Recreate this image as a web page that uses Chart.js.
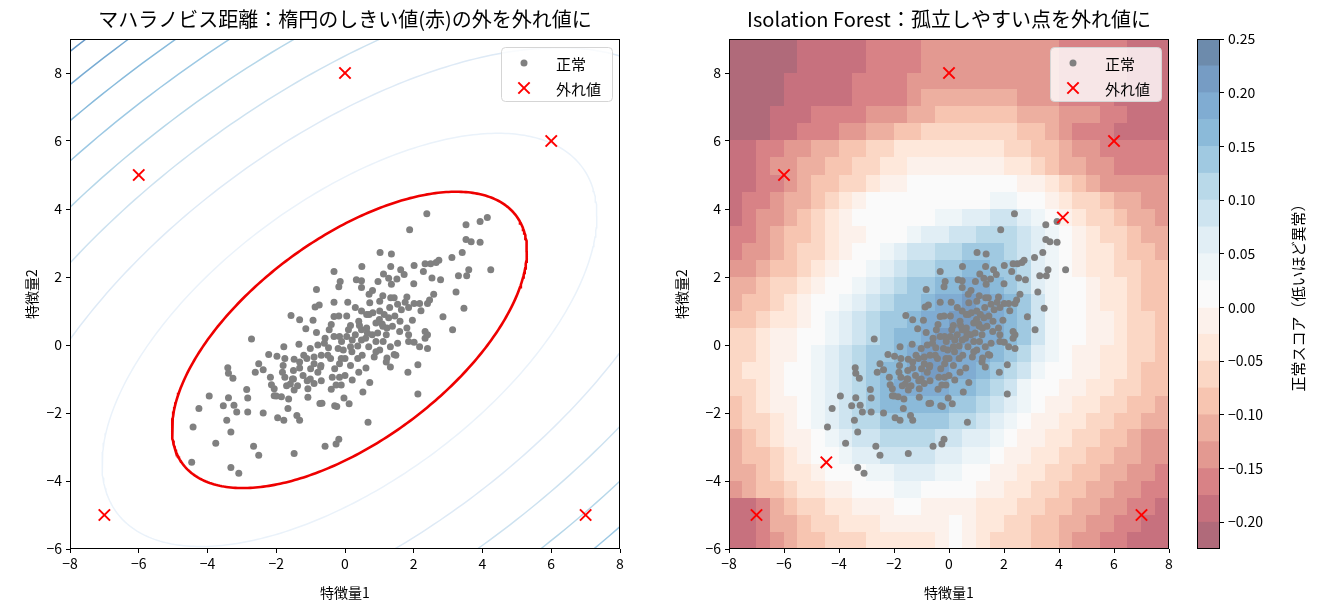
<!DOCTYPE html>
<html>
<head>
<meta charset="utf-8">
<script src="https://cdn.jsdelivr.net/npm/chart.js@4.4.1/dist/chart.umd.min.js"></script>
<style>
  body { margin: 0; background: #fff; width: 1317px; height: 611px; position: relative; overflow: hidden; }
  canvas { position: absolute; top: 0; }
</style>
</head>
<body>
<canvas id="left" width="690" height="611" style="left:0px"></canvas>
<canvas id="right" width="600" height="611" style="left:649px"></canvas>
<canvas id="cbar" width="137" height="611" style="left:1180px"></canvas>
<script>
const FONT = "'Noto Sans CJK JP', 'Noto Sans', sans-serif";
Chart.defaults.font.family = FONT;
Chart.defaults.color = '#000';

// --- data ---
const normalX = [
  2.38, 4.14, 3.93, 3.52, 1.88, 3.52, 3.67, 3.93, 4.24, 1.02,
  1.35, 3.41, 3.11, 2.73, 2.65, 2.49, 2.33, 2.01, 2.28, 2.53,
  2.78, 3.60, 3.30, 3.54, 0.49, 1.33, 1.12, 1.62, 1.72, 1.51,
  1.27, 1.35, -0.32, -0.14, -0.18, 0.33, 0.48, 0.48, 0.96, 2.00,
  -0.83, 3.23, 2.58, 2.46, 2.40, 0.70, 1.33, 1.43, 1.80, 1.75,
  1.53, 2.01, 2.17, 2.21, -0.32, 0.08, 0.72, 1.01, -0.75, -0.87,
  3.46, 2.85, 3.13, -1.57, -1.32, -0.93, -0.32, -0.18, 0.05, 0.48,
  0.63, 0.81, 1.01, 1.14, 1.27, 1.64, 1.85, 1.96, -1.14, -0.83,
  -0.46, 0.16, 0.42, 0.48, 0.63, 0.90, 1.08, 1.22, 1.38, 1.59,
  2.33, 2.40, 2.33, -2.72, -0.58, -0.32, -0.16, 0.05, 0.21, 0.48,
  0.79, 1.11, 1.53, 1.85, 2.01, 2.17, 2.40, 1.85, -1.34, -1.78,
  -1.01, -0.79, -0.48, -0.05, 0.16, 0.37, 0.69, 1.01, 1.32, 1.43,
  -2.22, -1.98, -1.75, -1.48, -1.32, -1.11, -0.69, -0.42, -0.11, 0.37,
  0.85, 1.22, 1.48, -2.51, -2.61, -2.38, -1.82, -1.50, -1.32, -0.90,
  -0.71, -0.16, 0.16, 0.61, 1.32, 2.12, 1.83, -3.41, -3.39, -3.26,
  -2.17, -1.75, -1.53, -1.22, -1.01, -0.79, -0.37, -0.16, 0.00, 0.21,
  0.72, -2.14, -1.59, -1.38, -0.90, -0.69, -2.86, -2.06, -1.48, -1.08,
  -0.26, -0.11, 0.52, 2.12, -3.95, -3.39, -2.83, -2.06, -1.85, -1.64,
  -1.08, -0.03, -4.25, -3.54, -3.23, -1.66, -0.73, -0.67, -0.30, -0.24,
  0.12, -3.15, -2.83, -2.38, -1.96, -1.78, -1.40, -1.32, -3.44, 0.67,
  -4.42, -3.32, -3.76, -2.66, -0.58, -0.26, -0.18, -2.51, -1.48, -4.46,
  -3.32, -3.09,
  0.30, 0.60, 0.90, 1.20, 0.40, 0.70, 1.00, 1.30, 0.20, -0.20,
  -0.50, -0.70, -1.00, -1.20, -0.30, 0.00, 0.50, 0.90, 1.10, 0.65,
  -0.10, 0.10, -0.60, -0.90, -1.50, -1.70, -1.10, 0.30, 1.60, 1.80,
  0.80, 1.10, -0.40, -1.80, -2.00, 0.40, 1.20, -0.40, 0.95, 1.45
];
const normalY = [
  3.86, 3.75, 3.63, 3.54, 3.39, 3.10, 3.04, 3.02, 2.21, 2.72,
  2.68, 2.72, 2.57, 2.49, 2.43, 2.39, 2.39, 2.34, 2.16, 1.97,
  1.92, 2.21, 2.04, 2.04, 2.31, 2.31, 2.09, 2.21, 2.07, 1.94,
  1.96, 1.79, 2.16, 1.87, 1.71, 1.92, 1.89, 1.69, 1.87, 1.80,
  1.63, 1.56, 1.49, 1.32, 1.22, 1.49, 1.39, 1.39, 1.41, 1.26,
  1.20, 1.22, 1.22, 1.01, 1.26, 1.26, 1.24, 1.29, 1.18, 1.12,
  1.08, 0.83, 0.45, 0.87, 0.74, 0.73, 0.84, 0.85, 0.85, 1.00,
  0.90, 0.95, 1.00, 0.90, 0.80, 1.04, 1.10, 0.73, 0.48, 0.37,
  0.45, 0.57, 0.57, 0.45, 0.50, 0.65, 0.62, 0.50, 0.55, 0.40,
  0.40, 0.30, 0.20, 0.18, 0.20, 0.25, 0.25, 0.25, 0.15, 0.15,
  0.30, 0.10, 0.05, 0.10, 0.08, -0.05, -0.10, 0.30, 0.02, -0.05,
  -0.10, 0.00, -0.08, -0.15, -0.05, -0.03, -0.05, -0.15, -0.05, -0.28,
  -0.28, -0.33, -0.40, -0.42, -0.50, -0.40, -0.30, -0.40, -0.40, -0.40,
  -0.35, -0.38, -0.30, -0.55, -0.80, -0.73, -0.80, -0.75, -0.68, -0.55,
  -0.65, -0.55, -0.60, -0.68, -0.65, -0.58, -0.80, -0.67, -0.83, -0.98,
  -0.95, -0.95, -1.00, -0.90, -1.00, -0.80, -0.95, -0.95, -0.90, -1.03,
  -1.10, -1.17, -1.15, -1.20, -1.13, -1.05, -1.31, -1.29, -1.32, -1.29,
  -1.18, -1.18, -1.38, -1.44, -1.50, -1.55, -1.56, -1.49, -1.52, -1.59,
  -1.54, -1.56, -1.87, -1.79, -1.77, -1.87, -1.72, -1.71, -1.79, -1.81,
  -1.73, -1.97, -1.97, -2.00, -2.14, -2.21, -2.07, -2.21, -2.21, -2.27,
  -2.41, -2.56, -2.89, -2.98, -2.98, -2.91, -2.77, -3.24, -3.19, -3.45,
  -3.60, -3.77,
  0.30, 0.20, 0.10, 0.30, 0.70, 0.90, 0.75, 1.10, -0.20, -0.10,
  -0.30, -0.60, -0.70, -0.30, -0.70, -0.40, -0.30, -0.20, 0.55, 0.35,
  0.10, 0.45, 0.05, -0.35, -1.00, -1.20, -1.05, 1.10, 0.70, 0.50,
  1.60, 1.45, 0.60, -0.60, -1.50, -0.80, -0.50, -1.30, 0.35, 0.85
];
const outlierX = [-7, 7, -6, 0, 6];
const outlierY = [-5, -5, 5, 8, 6];
// normal points that the isolation forest also marks as outliers
const flaggedX = [4.14, -4.46];
const flaggedY = [3.75, -3.45];

const xTicks = [-8, -6, -4, -2, 0, 2, 4, 6, 8];
const yTicks = [-6, -4, -2, 0, 2, 4, 6, 8];
const cbarTicks = [-0.20, -0.15, -0.10, -0.05, 0.00, 0.05, 0.10, 0.15, 0.20, 0.25];

// Mahalanobis model (estimated from the drawn ellipses)
const center = [0.13, 0.15];
const cov = [[2.96, 1.5], [1.5, 2.11]];
const thresholdDist = 3;
const contourLevels = [17.5, 35, 52.5, 70, 87.5, 105, 122.5, 140]; // squared distance

// Isolation Forest score bands: level index per 0.5 x 0.5 cell, rows from y=9 down to y=-6,
// columns from x=-8 to x=8 ('0'..'i' = band 0..18)
const scoreMin = -0.225;
const scoreStep = 0.025;
const bandCount = 19;
const cellSize = 0.5;
const scoreGrid = [
  "00000111112222333333333322222111",
  "00000111112222333333333322222111",
  "00001111122223333333333322222111",
  "00001111122223444444433322221111",
  "00011122223334455555544433322111",
  "00011222334455666666655432221111",
  "11223344556677777777665543322222",
  "11233445566778888888776544332222",
  "11223455667889999999988765433333",
  "1223445678999999999aa99876654433",
  "123345678999999aabbccba987665443",
  "2234556788999abbccdddcba98766544",
  "23345667899abccddeeedcba98776554",
  "3345567899abcddeeffeedba98776655",
  "445667899abcdeeffggfedba99877655",
  "45567899abcdeefgghggfeca99877655",
  "5567789abcdeefgghhhgfeca99887665",
  "6678899abcdeffghhhggfeca99887665",
  "667889abcdeefghhhggfedba98877665",
  "677899abcdeffghhggfedca998877655",
  "667899abcdefggggffedca9988776655",
  "567889abcdefffffeedcba9887766554",
  "566789abcddeeeeeddcba98877665544",
  "4567889abccddddccbba988776655433",
  "45567899abbccccbbaa9887766554433",
  "4456778999aabbbaa998877665544332",
  "345567788999aa999988776655443322",
  "11245667788899888877766554433221",
  "11244566777888889877665544332211",
  "11234556667777789876665543322111"
];

// --- colour maps ---
const RDBU = ['#67001f','#b2182b','#d6604d','#f4a582','#fddbc7','#f7f7f7','#d1e5f0','#92c5de','#4393c3','#2166ac','#053061'];
const BLUES = ['#f7fbff','#deebf7','#c6dbef','#9ecae1','#6baed6','#4292c6','#2171b5','#08519c','#08306b'];
function hex(h) { return [1, 3, 5].map(i => parseInt(h.substr(i, 2), 16)); }
function cmap(stops, t) {
  t = Math.min(1, Math.max(0, t));
  const p = t * (stops.length - 1), i = Math.min(Math.floor(p), stops.length - 2), f = p - i;
  const a = hex(stops[i]), b = hex(stops[i + 1]);
  return a.map((v, j) => v + (b[j] - v) * f);
}
function onWhite(rgb, alpha) {
  const c = rgb.map(v => Math.round(v * alpha + 255 * (1 - alpha)));
  return `rgb(${c[0]},${c[1]},${c[2]})`;
}
function bandColor(k) {
  const mid = scoreMin + scoreStep * (k + 0.5);
  const t = (mid - scoreMin) / (scoreStep * bandCount);
  return onWhite(cmap(RDBU, t), 0.6);
}
function fmt(v, digits) {
  const s = Math.abs(v).toFixed(digits);
  return (v < -1e-9 ? '\u2212' : '') + s;
}

function ellipse(d) {
  const l11 = Math.sqrt(cov[0][0]);
  const l21 = cov[0][1] / l11;
  const l22 = Math.sqrt(cov[1][1] - l21 * l21);
  const pts = [];
  for (let i = 0; i <= 360; i++) {
    const t = i * Math.PI / 180;
    const a = d * Math.cos(t), b = d * Math.sin(t);
    pts.push({ x: center[0] + l11 * a, y: center[1] + l21 * a + l22 * b });
  }
  return pts;
}

const toPoints = (xs, ys) => xs.map((x, i) => ({ x: x, y: ys[i] }));
const isFlagged = (x, y) => flaggedX.some((fx, i) => Math.abs(fx - x) < 1e-6 && Math.abs(flaggedY[i] - y) < 1e-6);

// --- plugins ---
const framePlugin = {
  id: 'frame',
  afterDatasetsDraw(chart) {
    const { ctx, chartArea: a } = chart;
    ctx.save();
    ctx.strokeStyle = '#000';
    ctx.lineWidth = 1;
    ctx.strokeRect(Math.round(a.left) + 0.5, Math.round(a.top) + 0.5,
      Math.round(a.right - a.left) - 1, Math.round(a.bottom - a.top) - 1);
    ctx.restore();
  }
};

const boxLegend = {
  id: 'boxLegend',
  afterDatasetsDraw(chart, args, opts) {
    if (!opts || !opts.show) return;
    const { ctx, chartArea: a } = chart;
    const w = 111, h = 54;
    const x0 = Math.round(a.right - w - 8), y0 = Math.round(a.top + 8);
    ctx.save();
    ctx.beginPath();
    ctx.roundRect(x0 + 0.5, y0 + 0.5, w, h, 4);
    ctx.fillStyle = 'rgba(255,255,255,0.8)';
    ctx.fill();
    ctx.strokeStyle = '#d5d5d5';
    ctx.lineWidth = 1;
    ctx.stroke();
    const items = chart.data.datasets.filter(d => d.legendRank !== undefined)
      .sort((p, q) => p.legendRank - q.legendRank);
    items.forEach((d, i) => {
      const cx = x0 + 23, cy = y0 + 16 + i * 25;
      ctx.fillStyle = d.pointBackgroundColor || d.borderColor;
      ctx.strokeStyle = d.borderColor || d.pointBackgroundColor;
      ctx.lineWidth = d.borderWidth || 1;
      Chart.helpers.drawPoint(ctx, {
        pointStyle: d.pointStyle || 'circle', radius: d.pointRadius, borderWidth: d.borderWidth || 0, rotation: 0
      }, cx, cy);
      ctx.fillStyle = '#000';
      ctx.font = `15px ${FONT}`;
      ctx.textBaseline = 'middle';
      ctx.textAlign = 'left';
      ctx.fillText(d.label, x0 + 55, cy + 1);
    });
    ctx.restore();
  }
};

const heatPlugin = {
  id: 'heat',
  beforeDatasetsDraw(chart, args, opts) {
    if (!opts || !opts.show) return;
    const { ctx, chartArea: a, scales } = chart;
    ctx.save();
    ctx.beginPath();
    ctx.rect(a.left, a.top, a.right - a.left, a.bottom - a.top);
    ctx.clip();
    scoreGrid.forEach((row, r) => {
      const yTop = 9 - r * cellSize;
      const py0 = Math.floor(scales.y.getPixelForValue(yTop));
      const py1 = Math.ceil(scales.y.getPixelForValue(yTop - cellSize));
      for (let c = 0; c < row.length; c++) {
        const k = parseInt(row[c], 36);
        const xl = -8 + c * cellSize;
        const px0 = Math.floor(scales.x.getPixelForValue(xl));
        const px1 = Math.ceil(scales.x.getPixelForValue(xl + cellSize));
        ctx.fillStyle = bandColor(k);
        ctx.fillRect(px0, py0, px1 - px0, py1 - py0);
      }
    });
    ctx.restore();
  }
};

function axes(yTitlePad) {
  return {
    x: {
      type: 'linear', min: -8, max: 8,
      afterBuildTicks: s => { s.ticks = xTicks.map(v => ({ value: v })); },
      afterFit: s => { s.height = 52; },
      border: { display: false },
      grid: { drawOnChartArea: false, drawTicks: true, tickLength: 4, color: '#000' },
      ticks: { padding: 2, font: { size: 14 }, color: '#000', maxRotation: 0, callback: v => fmt(v, 0) },
      title: { display: true, text: '特徴量1', font: { size: 14 }, color: '#000', padding: { top: 7, bottom: 0 } }
    },
    y: {
      type: 'linear', min: -6, max: 9,
      afterBuildTicks: s => { s.ticks = yTicks.map(v => ({ value: v })); },
      afterFit: s => { s.width = 60; },
      border: { display: false },
      grid: { drawOnChartArea: false, drawTicks: true, tickLength: 4, color: '#000' },
      ticks: { padding: 4, font: { size: 14 }, color: '#000', callback: v => fmt(v, 0) },
      title: { display: true, text: '特徴量2', font: { size: 14 }, color: '#000', padding: { top: yTitlePad, bottom: 0 } }
    }
  };
}

function titleOpts(text) {
  return {
    display: true, text: text, fullSize: false, color: '#000',
    font: { size: 20, weight: 'normal', lineHeight: 1 },
    padding: { top: 9, bottom: 10 }
  };
}

const normalStyle = { pointRadius: 3.5, pointBackgroundColor: 'gray', borderWidth: 0, pointBorderWidth: 0, pointStyle: 'circle' };
const outStyle = { pointRadius: 8, pointStyle: 'crossRot', borderColor: 'red', pointBorderColor: 'red', borderWidth: 2, pointBorderWidth: 2 };

// --- left: Mahalanobis ---
const leftSets = [
  Object.assign({ label: '外れ値', data: toPoints(outlierX, outlierY), order: 0, legendRank: 1 }, outStyle),
  Object.assign({ label: '正常', data: toPoints(normalX, normalY), order: 1, legendRank: 0 }, normalStyle),
  { label: 'threshold', data: ellipse(thresholdDist), showLine: true, pointRadius: 0, borderColor: '#ee0000', borderWidth: 2.6, order: 2 }
];
contourLevels.forEach((lv, i) => {
  leftSets.push({
    label: 'd2=' + lv, data: ellipse(Math.sqrt(lv)), showLine: true, pointRadius: 0,
    borderColor: onWhite(cmap(BLUES, 0.12 + 0.68 * i / (contourLevels.length - 1)), 0.65),
    borderWidth: 1.5, order: 3
  });
});

new Chart(document.getElementById('left'), {
  type: 'scatter',
  data: { datasets: leftSets },
  options: {
    responsive: false, animation: false, events: [],
    layout: { padding: { left: 10, right: 70, top: 0, bottom: 10 } },
    scales: axes(13),
    plugins: {
      legend: { display: false }, tooltip: { enabled: false },
      title: titleOpts('マハラノビス距離：楕円のしきい値(赤)の外を外れ値に'),
      boxLegend: { show: true }
    }
  },
  plugins: [framePlugin, boxLegend]
});

// --- right: Isolation Forest ---
const ifNormal = toPoints(normalX, normalY).filter(p => !isFlagged(p.x, p.y));
const ifOut = toPoints(outlierX.concat(flaggedX), outlierY.concat(flaggedY));

new Chart(document.getElementById('right'), {
  type: 'scatter',
  data: {
    datasets: [
      Object.assign({ label: '外れ値', data: ifOut, order: 0, legendRank: 1 }, outStyle),
      Object.assign({ label: '正常', data: ifNormal, order: 1, legendRank: 0 }, normalStyle)
    ]
  },
  options: {
    responsive: false, animation: false, events: [],
    layout: { padding: { left: 20, right: 80, top: 0, bottom: 10 } },
    scales: axes(4),
    plugins: {
      legend: { display: false }, tooltip: { enabled: false },
      title: titleOpts('Isolation Forest：孤立しやすい点を外れ値に'),
      boxLegend: { show: true },
      heat: { show: true }
    }
  },
  plugins: [heatPlugin, framePlugin, boxLegend]
});

// --- colour bar ---
const bandSets = [];
for (let k = 0; k < bandCount; k++) {
  const lo = scoreMin + k * scoreStep;
  bandSets.push({
    data: [[lo, lo + scoreStep]], backgroundColor: bandColor(k), borderWidth: 0,
    barPercentage: 1, categoryPercentage: 1, grouped: false
  });
}
const cbarTitle = {
  id: 'cbarTitle',
  afterDraw(chart) {
    const { ctx, chartArea: a } = chart;
    ctx.save();
    ctx.translate(118, (a.top + a.bottom) / 2);
    ctx.rotate(-Math.PI / 2);
    ctx.font = `15px ${FONT}`;
    ctx.fillStyle = '#000';
    ctx.textAlign = 'center';
    ctx.textBaseline = 'middle';
    ctx.fillText('正常スコア（低いほど異常）', 0, 0);
    ctx.restore();
  }
};
new Chart(document.getElementById('cbar'), {
  type: 'bar',
  data: { labels: ['score'], datasets: bandSets },
  options: {
    responsive: false, animation: false, events: [],
    layout: { padding: { left: 17, right: 0, top: 39, bottom: 62 } },
    scales: {
      x: { display: false },
      y: {
        position: 'right', min: scoreMin, max: scoreMin + scoreStep * bandCount,
        afterBuildTicks: s => { s.ticks = cbarTicks.map(v => ({ value: v })); },
        afterFit: s => { s.width = 97; },
        border: { display: false },
        grid: { drawOnChartArea: false, drawTicks: true, tickLength: 4, color: '#000' },
        ticks: { padding: 4, font: { size: 14 }, color: '#000', callback: v => fmt(v, 2) }
      }
    },
    plugins: { legend: { display: false }, tooltip: { enabled: false } }
  },
  plugins: [framePlugin, cbarTitle]
});
</script>
</body>
</html>
